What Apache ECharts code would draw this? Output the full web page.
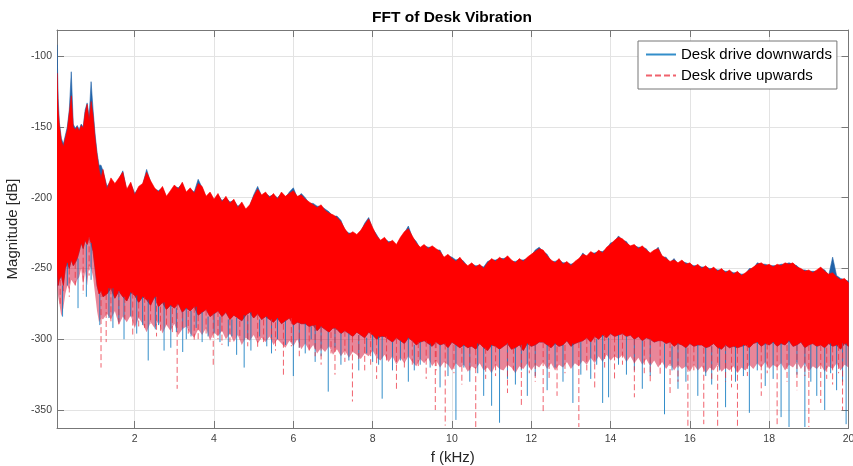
<!DOCTYPE html>
<html><head><meta charset="utf-8">
<script src="https://cdn.jsdelivr.net/npm/echarts@6/dist/echarts.min.js"></script>
<style>html,body{margin:0;padding:0;background:#fff}#chart{width:853px;height:466px}</style>
</head><body><div id="chart"></div>
<script>
const chartTitle = 'FFT of Desk Vibration';
const xName = 'f (kHz)';
const yName = 'Magnitude [dB]';
const seriesNames = ['Desk drive downwards', 'Desk drive upwards'];

// frequency grid (kHz)
const freqKHz = [
0.04,0.07,0.1,0.15,0.2,0.25,0.3,0.35,0.4,0.45,0.5,0.55,0.6,0.65,0.7,0.75,0.8,0.85,0.9,0.95,1.0,1.05,1.1,1.15,1.2,
1.3,1.4,1.5,1.6,1.7,1.8,1.9,2.0,2.1,2.2,
2.3,2.4,2.5,2.6,2.7,2.8,2.9,3.0,3.1,3.2,
3.3,3.4,3.5,3.6,3.7,3.8,3.9,4.0,4.1,4.2,
4.3,4.4,4.5,4.6,4.7,4.8,4.9,5.0,5.1,5.2,
5.3,5.4,5.5,5.6,5.7,5.8,5.9,6.0,6.1,6.2,
6.3,6.4,6.5,6.6,6.7,6.8,6.9,7.0,7.1,7.2,
7.3,7.4,7.5,7.6,7.7,7.8,7.9,8.0,8.1,8.2,
8.3,8.4,8.5,8.6,8.7,8.8,8.9,9.0,9.1,9.2,
9.3,9.4,9.5,9.6,9.7,9.8,9.9,10.0,10.1,10.2,
10.3,10.4,10.5,10.6,10.7,10.8,10.9,11.0,11.1,11.2,
11.3,11.4,11.5,11.6,11.7,11.8,11.9,12.0,12.1,12.2,
12.3,12.4,12.5,12.6,12.7,12.8,12.9,13.0,13.1,13.2,
13.3,13.4,13.5,13.6,13.7,13.8,13.9,14.0,14.1,14.2,
14.3,14.4,14.5,14.6,14.7,14.8,14.9,15.0,15.1,15.2,
15.3,15.4,15.5,15.6,15.7,15.8,15.9,16.0,16.1,16.2,
16.3,16.4,16.5,16.6,16.7,16.8,16.9,17.0,17.1,17.2,
17.3,17.4,17.5,17.6,17.7,17.8,17.9,18.0,18.1,18.2,
18.3,18.4,18.5,18.6,18.7,18.8,18.9,19.0,19.1,19.2,
19.3,19.4,19.5,19.6,19.7,19.8,19.9,20.0
];

// "Desk drive upwards" (red): upper envelope and lower edge of the dense band (dB)
const upTop = [
-112,-138,-149,-160,-164,-158,-152,-140,-128,-150,-152,-150,-153,-149,-151,-140,-134,-146,-132,-142,-158,-170,-180,-186,-180,
-194,-186,-190,-186,-182,-194,-189,-198,-192,-190,
-182,-188,-193,-196,-192,-199,-195,-191,-194,-189,
-196,-193,-197,-190,-192,-199,-196,-201,-197,-203,
-199,-204,-201,-207,-203,-208,-205,-199,-194,-198,
-196,-200,-197,-201,-196,-199,-197,-195,-199,-198,
-201,-203,-205,-207,-205,-209,-211,-212,-214,-217,
-222,-226,-224,-226,-223,-219,-215,-221,-227,-230,
-228,-232,-230,-233,-228,-224,-222,-227,-232,-235,
-233,-236,-234,-236,-238,-242,-240,-243,-245,-242,
-246,-248,-246,-249,-247,-250,-246,-243,-245,-242,
-244,-241,-244,-246,-243,-245,-242,-240,-238,-236,
-237,-241,-244,-246,-243,-247,-245,-248,-245,-243,
-240,-241,-238,-240,-237,-239,-235,-233,-230,-228,
-229,-232,-234,-233,-236,-234,-237,-239,-237,-236,
-241,-243,-245,-244,-246,-244,-247,-246,-249,-247,
-250,-248,-251,-249,-252,-250,-253,-251,-254,-252,
-255,-253,-251,-249,-247,-246,-248,-247,-249,-247,
-248,-246,-247,-246,-249,-250,-252,-251,-253,-251,
-249,-252,-254,-253,-256,-258,-257,-260
];
const upBottom = [
-250,-262,-258,-255,-262,-250,-246,-250,-244,-248,-246,-243,-238,-232,-236,-230,-233,-228,-232,-238,-250,-262,-268,-266,-270,
-268,-264,-271,-266,-270,-273,-267,-269,-274,-270,
-272,-276,-270,-277,-274,-279,-276,-278,-275,-281,
-278,-280,-277,-283,-281,-279,-284,-282,-280,-284,
-281,-286,-283,-285,-287,-283,-281,-285,-282,-286,
-284,-286,-288,-285,-289,-287,-285,-290,-288,-289,
-289,-291,-290,-294,-291,-293,-295,-292,-293,-296,
-294,-296,-298,-295,-297,-299,-295,-297,-300,-298,
-298,-300,-302,-299,-301,-303,-299,-301,-304,-302,
-301,-303,-305,-302,-304,-303,-306,-302,-304,-306,
-304,-306,-305,-307,-303,-306,-308,-304,-305,-307,
-305,-303,-307,-306,-304,-308,-303,-305,-304,-302,
-302,-304,-306,-303,-305,-304,-301,-305,-303,-302,
-301,-299,-302,-298,-300,-297,-299,-296,-298,-297,
-296,-298,-297,-300,-298,-301,-299,-300,-302,-301,
-301,-303,-302,-305,-303,-304,-306,-303,-305,-304,
-304,-306,-305,-303,-306,-307,-304,-306,-305,-306,
-305,-304,-306,-303,-302,-305,-303,-304,-302,-305,
-303,-304,-301,-305,-304,-302,-306,-304,-303,-305,
-304,-306,-303,-305,-304,-307,-303,-305
];

// "Desk drive downwards" (blue): upper envelope and lower edge of its fringe (dB)
const downTop = [
-92,-130,-147,-158,-162,-156,-150,-138,-111,-148,-151,-149,-152,-148,-150,-138,-133,-143,-118,-138,-155,-168,-177,-177,-181,
-192,-188,-191,-187,-181,-195,-190,-197,-193,-191,
-180,-189,-194,-195,-193,-200,-196,-192,-193,-190,
-197,-194,-196,-187,-193,-200,-197,-202,-198,-202,
-200,-203,-202,-206,-204,-209,-206,-198,-192,-199,
-197,-199,-198,-200,-197,-200,-196,-193,-200,-197,
-200,-204,-204,-206,-206,-208,-210,-213,-213,-216,
-223,-225,-225,-227,-224,-218,-214,-222,-226,-231,
-229,-231,-231,-234,-229,-225,-220,-228,-231,-236,
-234,-235,-235,-237,-237,-243,-241,-242,-244,-243,
-245,-249,-247,-248,-248,-249,-245,-244,-244,-243,
-243,-242,-245,-245,-244,-244,-243,-241,-237,-235,
-238,-240,-245,-245,-244,-246,-246,-247,-246,-244,
-239,-242,-239,-239,-238,-238,-236,-232,-231,-227,
-230,-231,-235,-234,-235,-235,-236,-240,-238,-235,
-242,-242,-246,-243,-247,-245,-246,-247,-248,-248,
-249,-249,-250,-250,-251,-251,-252,-252,-253,-253,
-254,-254,-250,-250,-246,-247,-247,-248,-248,-248,
-247,-247,-246,-247,-248,-251,-251,-252,-252,-252,
-250,-251,-255,-242,-255,-257,-258,-259
];
const downBottom = [
-262,-270,-275,-284,-278,-268,-262,-265,-258,-260,-262,-258,-256,-250,-262,-252,-262,-248,-250,-256,-268,-280,-288,-285,-286,
-282,-286,-280,-290,-284,-288,-283,-292,-285,-289,
-295,-288,-292,-287,-296,-290,-294,-289,-297,-293,
-291,-296,-299,-293,-297,-292,-301,-295,-298,-294,
-300,-296,-302,-297,-304,-299,-301,-297,-303,-299,
-302,-298,-304,-300,-303,-306,-301,-305,-300,-307,
-303,-308,-304,-310,-306,-309,-305,-311,-307,-312,
-308,-313,-309,-311,-314,-310,-312,-308,-313,-315,
-311,-316,-312,-318,-313,-317,-312,-316,-319,-314,
-317,-313,-319,-315,-320,-316,-318,-322,-317,-320,
-318,-323,-319,-321,-317,-322,-320,-324,-318,-321,
-322,-318,-320,-324,-319,-321,-317,-322,-318,-320,
-316,-321,-317,-322,-318,-320,-316,-321,-317,-319,
-315,-318,-313,-317,-312,-316,-311,-315,-312,-314,
-311,-316,-312,-317,-313,-318,-314,-319,-315,-320,
-316,-321,-317,-322,-318,-321,-319,-323,-318,-322,
-319,-324,-320,-322,-318,-323,-320,-322,-319,-324,
-320,-322,-318,-321,-317,-320,-316,-321,-318,-320,
-317,-322,-318,-320,-316,-321,-317,-323,-319,-321,
-318,-323,-319,-321,-317,-322,-318,-320
];

// downward spikes below the dense band [kHz, dB]
const downSpikes = [
[0.18,-284],[0.57,-278],[0.78,-270],[1.12,-290],[1.45,-292],[1.73,-300],[2.05,-296],[2.34,-315],[2.52,-293],[2.74,-308],
[2.91,-306],[3.21,-309],[3.42,-298],[3.7,-302],[4.0,-296],[4.36,-305],[4.57,-311],[4.76,-320],[4.93,-308],[5.33,-305],
[5.6,-300],[6.0,-326],[6.3,-310],[6.55,-316],[6.88,-337],[7.2,-318],[7.65,-322],[8.0,-316],[8.24,-342],[8.5,-322],
[8.9,-330],[9.2,-318],[9.7,-334],[10.1,-357],[10.45,-330],[10.8,-340],[11.0,-347],[11.2,-359],[11.6,-332],[11.9,-340],
[12.4,-336],[12.8,-330],[13.05,-345],[13.5,-328],[13.8,-345],[13.95,-341],[14.4,-325],[14.8,-335],[15.36,-353],[15.7,-335],
[16.2,-340],[16.55,-332],[16.9,-348],[17.5,-352],[17.9,-333],[18.3,-355],[18.5,-362],[18.9,-362],[19.2,-340],[19.4,-350],
[19.7,-336],[19.94,-360],
[0.3,-262],[0.9,-258],[1.35,-285],[1.6,-288],[1.9,-284],[2.2,-290],[2.6,-290],[3.05,-295],[3.3,-300],[3.55,-292],
[3.85,-298],[4.15,-302],[4.45,-298],[4.85,-300],[5.15,-298],[5.45,-310],[5.8,-304],[6.15,-306],[6.45,-300],[6.7,-312],
[7.05,-306],[7.4,-315],[7.85,-310],[8.15,-318],[8.7,-315],[9.05,-322],[9.45,-320],[9.9,-326],[10.3,-320],[10.65,-324],
[11.4,-328],[11.75,-322],[12.1,-326],[12.6,-320],[13.25,-325],[13.65,-318],[14.2,-318],[14.6,-322],[15.0,-326],[15.55,-322],
[15.9,-330],[16.4,-326],[16.75,-322],[17.15,-330],[17.35,-326],[17.7,-322],[18.1,-328],[18.7,-325],[19.05,-330],[19.55,-324],
[19.85,-330]
];
const upSpikes = [
[0.12,-275],[0.35,-270],[0.7,-268],[1.15,-320],[1.28,-302],[1.6,-290],[1.95,-298],[2.25,-292],[2.55,-298],[2.8,-290],
[3.07,-335],[3.35,-296],[3.6,-300],[3.98,-320],[4.2,-304],[4.65,-300],[5.1,-306],[5.45,-300],[5.75,-327],[6.15,-312],
[6.7,-318],[7.05,-325],[7.49,-344],[7.8,-322],[8.1,-328],[8.6,-335],[9.0,-320],[9.35,-328],[9.58,-350],[9.83,-361],
[10.25,-332],[10.6,-362],[11.4,-338],[11.75,-348],[12.1,-330],[12.3,-352],[12.65,-340],[13.2,-362],[13.6,-336],[14.1,-328],
[14.6,-341],[15.0,-330],[15.5,-338],[15.95,-362],[16.35,-360],[16.7,-362],[17.05,-334],[17.2,-362],[17.8,-340],[18.2,-360],
[18.7,-336],[19.0,-362],[19.3,-345],[19.6,-332],[19.85,-350],
[0.2,-266],[0.5,-262],[0.85,-255],[1.4,-288],[1.75,-286],[2.1,-292],[2.4,-289],[2.65,-294],[2.95,-296],[3.2,-292],
[3.5,-302],[3.8,-296],[4.1,-300],[4.4,-302],[4.85,-305],[5.25,-302],[5.55,-308],[5.95,-305],[6.4,-308],[6.55,-312],
[6.95,-310],[7.3,-316],[7.65,-314],[7.95,-318],[8.35,-316],[8.8,-322],[9.15,-320],[9.6,-322],[10.05,-324],[10.45,-322],
[10.85,-328],[11.1,-326],[11.55,-322],[11.95,-324],[12.45,-328],[12.85,-324],[13.4,-322],[13.85,-320],[14.3,-318],[14.85,-324],
[15.25,-326],[15.7,-330],[16.1,-324],[16.55,-328],[16.9,-330],[17.45,-326],[17.95,-324],[18.45,-330],[18.9,-326],[19.45,-328],
[19.75,-324]
];

const FONT = 'Liberation Sans, Arial, Helvetica, sans-serif';

function nearestIndex(f) {
  let best = 0;
  for (let i = 1; i < freqKHz.length; i++) {
    if (Math.abs(freqKHz[i] - f) < Math.abs(freqKHz[best] - f)) best = i;
  }
  return best;
}
function spikeData(spikes) {
  const out = [];
  spikes.forEach(([f, v]) => {
    out.push([f, upBottom[nearestIndex(f)]]);
    out.push([f, v]);
    out.push([f, null]);
  });
  return out;
}
// filled band between two envelopes, drawn through the axis scales (api.coord)
function bandSeries(top, bot, fill, stroke) {
  return {
    type: 'custom', silent: true, animation: false, clip: true,
    data: freqKHz.map((f, i) => [f, top[i], bot[i]]),
    encode: { x: 0, y: [1, 2] },
    renderItem: function (params, api) {
      if (params.dataIndex !== 0) return null;
      const pts = [];
      for (let i = 0; i < freqKHz.length; i++) pts.push(api.coord([freqKHz[i], top[i]]));
      for (let i = freqKHz.length - 1; i >= 0; i--) pts.push(api.coord([freqKHz[i], bot[i]]));
      return { type: 'polygon', shape: { points: pts },
        style: { fill: fill, stroke: stroke || null, lineWidth: stroke ? 0.6 : 0 } };
    }
  };
}

const axisCol = '#777';
const chart = echarts.init(document.getElementById('chart'), null, { renderer: 'canvas' });
chart.setOption({
  backgroundColor: '#fff',
  animation: false,
  title: { text: chartTitle, left: 372, top: 10, padding: 0,
    textStyle: { fontFamily: FONT, fontSize: 15.5, fontWeight: 'bold', color: '#000' } },
  legend: {
    data: seriesNames, orient: 'vertical', left: 638, top: 41,
    padding: [6, 5, 6, 7], itemGap: 6, itemWidth: 30, itemHeight: 14,
    backgroundColor: '#fff', borderColor: '#777', borderWidth: 1, borderRadius: 0,
    itemStyle: { opacity: 0 },
    textStyle: { fontFamily: FONT, fontSize: 15, color: '#000' }
  },
  grid: { left: 57, right: 4.5, top: 30, bottom: 38, containLabel: false, outerBoundsMode: 'none' },
  xAxis: [{
    type: 'value', min: 0.04, max: 20, splitNumber: 10,
    name: xName, nameLocation: 'middle', nameGap: 22,
    nameTextStyle: { fontFamily: FONT, fontSize: 15, color: '#262626' },
    axisLine: { show: true, onZero: false, lineStyle: { color: axisCol, width: 1 } },
    axisTick: { show: true, inside: true, length: 7, lineStyle: { color: axisCol } },
    axisLabel: { fontFamily: FONT, fontSize: 10.5, color: '#404040', margin: 6, showMinLabel: false, showMaxLabel: true },
    splitLine: { show: true, lineStyle: { color: '#e3e3e3', width: 1 } }
  }, {
    type: 'value', position: 'top', min: 0.04, max: 20, splitNumber: 10,
    axisLine: { show: true, onZero: false, lineStyle: { color: axisCol, width: 1 } },
    axisTick: { show: true, inside: true, length: 7, lineStyle: { color: axisCol } },
    axisLabel: { show: false }, splitLine: { show: false }
  }],
  yAxis: [{
    type: 'value', min: -362.7, max: -81.5,
    name: yName, nameLocation: 'middle', nameGap: 28, nameRotate: 90,
    nameTextStyle: { fontFamily: FONT, fontSize: 15, color: '#262626' },
    axisLine: { show: true, onZero: false, lineStyle: { color: axisCol, width: 1 } },
    axisTick: { show: true, inside: true, length: 7, lineStyle: { color: axisCol } },
    axisLabel: { fontFamily: FONT, fontSize: 10.5, color: '#404040', margin: 5, showMinLabel: false, showMaxLabel: false },
    splitLine: { show: true, lineStyle: { color: '#e3e3e3', width: 1 } }
  }, {
    type: 'value', position: 'right', min: -362.7, max: -81.5,
    axisLine: { show: true, onZero: false, lineStyle: { color: axisCol, width: 1 } },
    axisTick: { show: true, inside: true, length: 7, lineStyle: { color: axisCol } },
    axisLabel: { show: false }, splitLine: { show: false }
  }],
  series: [
    bandSeries(upBottom, downBottom, 'rgba(215,35,70,0.55)'),
    bandSeries(downTop, upBottom, '#2061a8', '#2061a8'),
    bandSeries(upTop, upBottom, '#ff0000', '#ff0000'),
    { name: seriesNames[0], type: 'line', data: spikeData(downSpikes), symbol: 'none', connectNulls: false,
      color: 'rgba(0,114,189,0.8)', lineStyle: { width: 1, color: 'rgba(0,114,189,0.8)', type: 'solid' },
      silent: true, animation: false },
    { name: seriesNames[1], type: 'line', data: spikeData(upSpikes), symbol: 'none', connectNulls: false,
      color: 'rgba(235,45,60,0.75)', lineStyle: { width: 1, color: 'rgba(235,45,60,0.75)', type: [6, 3] },
      silent: true, animation: false }
  ]
});
</script></body></html>
